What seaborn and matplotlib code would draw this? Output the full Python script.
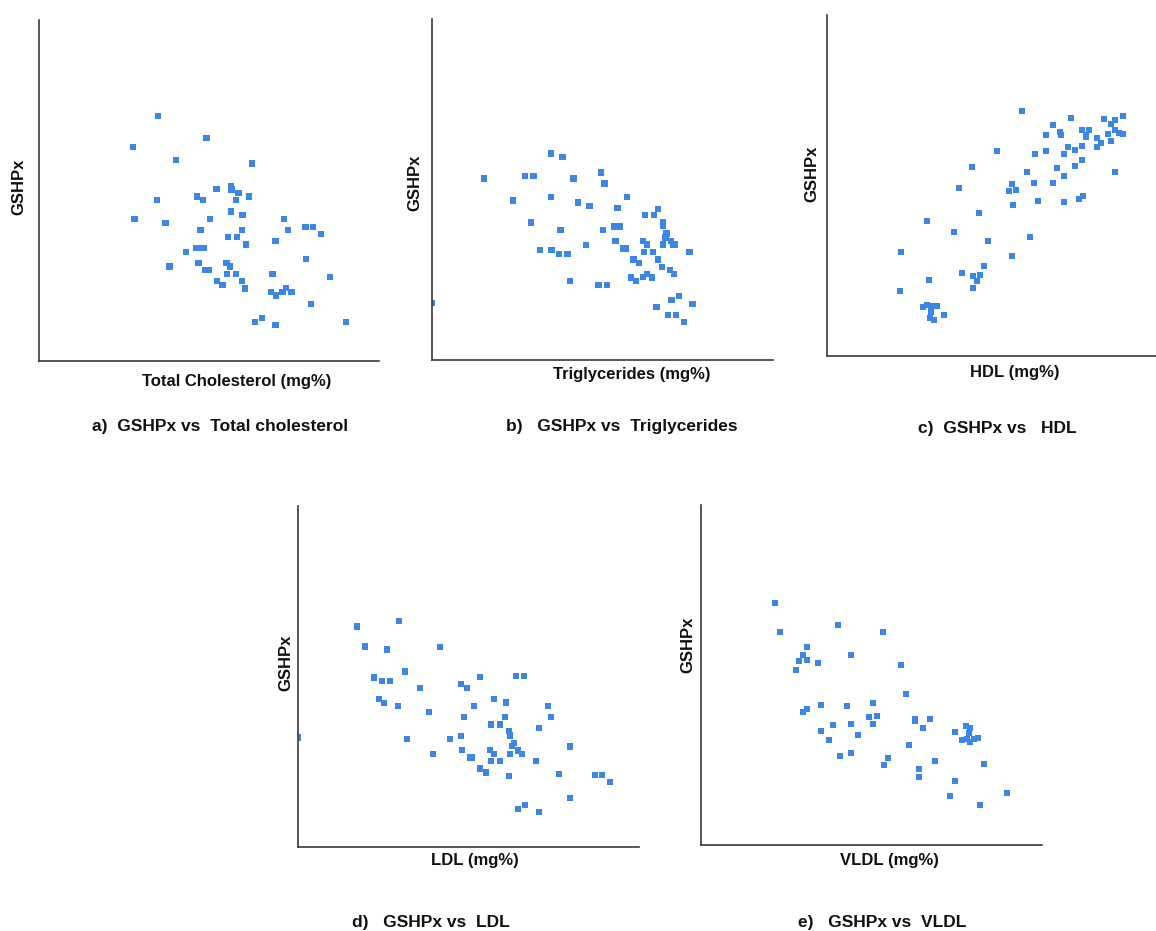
import matplotlib
matplotlib.use("Agg")
import matplotlib.pyplot as plt
import seaborn as sns
import pandas as pd

sns.set_style("white")
plt.rcParams['font.family'] = ['Liberation Sans', 'DejaVu Sans']

# ---- data (arbitrary units; no tick labels in original) ----
tc_x = [35.7, 50.3, 28.2, 41.2, 63.9, 57.6, 57.8, 53.3, 59.9, 47.4, 49.3, 59.1, 63.1, 35.4, 57.6,
        61.1, 28.7, 51.3, 38.0, 73.6, 48.5, 60.9, 74.7, 80.0, 82.3, 84.6, 56.8, 59.5, 71.0, 62.2,
        47.2, 48.3, 49.5, 44.2, 80.1, 39.2, 47.9, 56.3, 57.3, 50.0, 51.0, 56.5, 59.1, 70.1, 87.4,
        53.4, 55.1, 60.9, 61.8, 69.6, 71.1, 73.1, 74.2, 75.8, 81.7, 64.8, 67.0, 71.0, 92.1]
tc_y = [73.5, 66.9, 64.1, 60.3, 59.2, 52.5, 51.4, 51.5, 50.3, 49.3, 48.2, 48.2, 49.3, 48.2, 44.8,
        43.7, 42.6, 42.6, 41.3, 42.6, 39.3, 39.3, 39.3, 40.1, 40.1, 38.0, 37.1, 37.1, 36.0, 34.9,
        33.8, 33.8, 33.8, 32.7, 30.5, 28.3, 29.4, 29.4, 28.3, 27.2, 27.2, 26.1, 26.1, 26.1, 25.2,
        23.9, 22.8, 23.9, 21.7, 20.7, 19.6, 20.7, 21.8, 20.7, 17.1, 11.8, 12.8, 10.7, 11.6]

tg_x = [35.8, 39.2, 15.5, 28.0, 30.5, 42.5, 50.7, 51.8, 24.4, 35.8, 43.9, 47.3, 58.5, 55.7, 29.8,
        38.6, 51.4, 54.6, 56.5, 63.9, 66.6, 67.9, 69.3, 69.4, 70.4, 70.1, 71.7, 72.9, 69.3, 72.4,
        77.3, 32.5, 35.9, 38.2, 40.7, 46.3, 55.1, 63.3, 64.5, 57.4, 58.1, 63.6, 66.4, 60.5, 62.2,
        67.9, 69.1, 71.4, 72.6, 41.5, 50.0, 52.5, 59.8, 61.3, 63.3, 64.5, 66.1, 74.1, 71.9, 78.2,
        67.4, 70.9, 73.2, 75.6, 0.0]
tg_y = [61.9, 60.8, 54.4, 55.2, 55.2, 54.4, 56.2, 52.9, 47.8, 48.9, 47.2, 46.1, 48.9, 45.6, 41.2,
        39.0, 39.0, 40.0, 40.0, 43.4, 43.4, 45.2, 41.2, 40.1, 37.9, 36.7, 35.7, 34.6, 34.6, 34.4,
        32.4, 32.9, 32.9, 31.7, 31.7, 34.5, 35.7, 35.7, 34.6, 33.4, 33.4, 32.4, 32.4, 30.1, 29.0,
        30.1, 27.9, 26.9, 25.8, 23.6, 22.4, 22.4, 24.7, 23.6, 24.8, 25.8, 24.7, 19.1, 18.0, 16.9,
        15.9, 13.6, 13.6, 11.4, 17.1]

hdl_x = [58.4, 73.3, 83.1, 86.4, 88.7, 85.2, 67.8, 65.6, 70.0, 70.1, 76.4, 78.7, 77.7, 77.7, 86.4,
         84.4, 87.7, 88.9, 80.9, 82.1, 80.9, 85.2, 51.1, 62.3, 65.6, 71.1, 72.2, 74.4, 76.6, 76.6,
         74.4, 68.9, 71.1, 43.4, 60.1, 86.5, 39.6, 55.6, 54.5, 56.8, 62.2, 67.8, 55.7, 63.3, 71.1,
         75.5, 76.7, 45.7, 30.0, 38.0, 48.2, 60.9, 22.3, 55.4, 47.1, 40.5, 43.9, 46.0, 44.9, 30.7,
         43.9, 21.9, 28.7, 29.9, 31.1, 33.1, 31.1, 30.9, 32.0, 35.2]
hdl_y = [73.6, 71.5, 71.1, 70.8, 71.9, 69.5, 69.4, 66.4, 67.2, 66.3, 67.8, 67.9, 66.3, 65.6, 67.9,
         66.7, 66.8, 66.7, 65.4, 63.8, 62.8, 64.4, 61.5, 60.6, 61.4, 60.6, 62.8, 61.8, 62.9, 58.7,
         57.1, 56.5, 54.1, 56.7, 55.2, 55.2, 50.3, 51.7, 49.6, 49.8, 51.8, 52.0, 45.4, 46.4, 46.1,
         47.2, 48.1, 42.8, 40.5, 37.1, 34.5, 35.6, 31.3, 30.1, 27.1, 24.9, 24.1, 24.3, 22.6, 22.7,
         20.4, 19.6, 14.8, 15.3, 15.0, 15.1, 13.3, 11.5, 10.7, 12.4]

ldl_x = [17.7, 30.4, 20.1, 26.7, 42.5, 32.0, 22.9, 25.1, 27.5, 36.7, 48.8, 50.6, 54.5, 65.4, 67.9,
         24.3, 25.8, 30.0, 39.2, 52.7, 58.9, 62.3, 74.9, 49.9, 62.1, 76.0, 58.0, 60.7, 63.3, 63.5,
         72.4, 0.0, 32.7, 45.5, 48.8, 64.7, 64.3, 81.5, 40.4, 49.2, 51.5, 52.2, 57.5, 58.7, 63.5,
         66.0, 67.2, 57.8, 60.5, 71.4, 54.7, 56.4, 63.2, 78.4, 89.0, 91.3, 93.6, 81.7, 66.0, 68.2,
         72.4]
ldl_y = [66.2, 67.8, 60.2, 59.3, 60.0, 52.7, 50.9, 49.8, 49.8, 47.8, 49.0, 47.8, 51.1, 51.4, 51.4,
         44.4, 43.3, 42.3, 40.6, 42.3, 44.5, 43.4, 42.3, 39.0, 39.0, 39.0, 36.8, 36.8, 34.8, 33.5,
         35.7, 32.9, 32.4, 32.4, 33.4, 31.2, 30.3, 30.2, 27.9, 29.1, 26.9, 26.9, 29.1, 28.0, 28.0,
         29.0, 27.9, 25.8, 25.8, 25.8, 23.6, 22.4, 21.4, 22.0, 21.7, 21.7, 19.5, 14.6, 11.4, 12.5,
         10.4]

vldl_x = [22.3, 23.7, 41.1, 54.5, 31.7, 30.5, 29.5, 31.7, 28.5, 35.1, 45.0, 60.1, 61.5, 30.5, 31.7,
          36.1, 43.9, 51.5, 50.5, 52.7, 51.5, 45.0, 39.5, 36.1, 38.4, 47.2, 64.2, 64.3, 68.7, 66.5,
          62.5, 41.6, 45.0, 56.0, 55.0, 65.5, 65.5, 70.3, 76.2, 79.4, 80.7, 80.4, 78.4, 79.7, 80.7,
          81.9, 83.0, 85.0, 76.2, 74.7, 83.7, 91.9]
vldl_y = [72.6, 63.8, 66.1, 63.8, 59.4, 57.1, 55.3, 55.4, 52.5, 54.7, 56.9, 54.1, 45.3, 40.0, 40.9,
          42.1, 41.7, 42.7, 38.4, 38.6, 36.4, 36.4, 36.1, 34.1, 31.6, 32.9, 37.9, 37.1, 37.9, 35.0,
          30.0, 26.7, 27.5, 26.1, 24.0, 22.8, 20.3, 25.2, 34.0, 35.6, 35.0, 33.5, 31.5, 31.7, 31.0,
          31.7, 32.0, 24.4, 19.2, 14.7, 12.0, 15.7]

xlabels = ["Total Cholesterol (mg%)", "Triglycerides (mg%)", "HDL (mg%)", "LDL (mg%)", "VLDL (mg%)"]
captions = ["a)  GSHPx vs  Total cholesterol", "b)   GSHPx vs  Triglycerides", "c)  GSHPx vs   HDL",
            "d)   GSHPx vs  LDL", "e)   GSHPx vs  VLDL"]
ylabel = "GSHPx"

W, H = 1156, 931
fig = plt.figure(figsize=(W / 100, H / 100), dpi=100)

# layout in pixels: (left, right, top, bottom) of the axes box
boxes = [(39, 379, 20, 361), (432, 773, 19, 360), (827, 1156, 15, 356),
         (298, 639, 506, 847), (701, 1042, 505, 845)]
xlims = [102.1, 102.4, 98.7, 102.3, 102.3]
ylims = [102.2, 102.2, 102.3, 102.4, 102.0]
ylab_pos = [(19, 187), (415, 183), (812, 174), (286, 663), (688, 645)]
xlab_pos = [(237, 382), (632, 375), (1015, 372), (475, 861), (889, 860)]
cap_pos = [(220, 427), (622, 427), (997, 428), (431, 923), (882, 923)]

data = [(tc_x, tc_y), (tg_x, tg_y), (hdl_x, hdl_y), (ldl_x, ldl_y), (vldl_x, vldl_y)]
color = "#3b87e8"

for i, ((xs, ys), (l, r, t, b)) in enumerate(zip(data, boxes)):
    ax = fig.add_axes([l / W, 1 - b / H, (r - l) / W, (b - t) / H])
    df = pd.DataFrame({"x": xs, "y": ys})
    sns.scatterplot(data=df, x="x", y="y", ax=ax, marker="s", s=20, color=color,
                    linewidth=0, edgecolor="none")
    ax.set_xlim(0, xlims[i])
    ax.set_ylim(0, ylims[i])
    ax.set_xticks([])
    ax.set_yticks([])
    ax.set_xlabel("")
    ax.set_ylabel("")
    for s in ["top", "right"]:
        ax.spines[s].set_visible(False)
    for s in ["left", "bottom"]:
        ax.spines[s].set_color("#3a3a3a")
        ax.spines[s].set_linewidth(1.2)
    ax.patch.set_alpha(0)

    px, py = ylab_pos[i]
    fig.text(px / W, 1 - py / H, ylabel, rotation=90, ha="center", va="center",
             fontsize=12, fontweight="bold", color="#111111")
    px, py = xlab_pos[i]
    fig.text(px / W, 1 - py / H, xlabels[i], ha="center", va="center",
             fontsize=12, fontweight="bold", color="#111111")
    px, py = cap_pos[i]
    fig.text(px / W, 1 - py / H, captions[i], ha="center", va="center",
             fontsize=12.5, fontweight="bold", color="#111111")

fig.savefig("out.png", dpi=100)
